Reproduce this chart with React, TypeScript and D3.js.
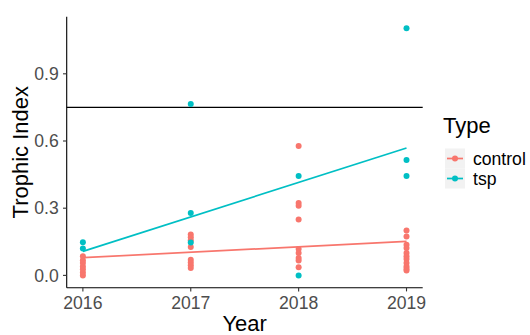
import * as d3 from "d3";

// values, one list per year
const years = [2016, 2017, 2018, 2019];
const yTicks = [0, 0.3, 0.6, 0.9];

const controlByYear = [
  [0.0, 0.013, 0.027, 0.04, 0.055, 0.068, 0.085],
  [0.182, 0.17, 0.157, 0.127, 0.07, 0.058, 0.045, 0.033],
  [0.578, 0.323, 0.311, 0.249, 0.118, 0.1, 0.078, 0.067, 0.036],
  [0.2, 0.174, 0.137, 0.122, 0.1, 0.085, 0.073, 0.055, 0.04, 0.03, 0.022],
];
const tspByYear = [
  [0.148, 0.12],
  [0.765, 0.279, 0.147],
  [0.444, 0.0],
  [1.103, 0.515, 0.444],
];

// fitted lm lines at first and last year
const controlFit = [0.079, 0.152];
const tspFit = [0.107, 0.569];
const refLine = 0.75;

const types = ["control", "tsp"];
const colors = ["#F8766D", "#00BFC4"];

const W = 530;
const H = 335;
const panel = { left: 66.7, right: 422.7, top: 16.7, bottom: 287.7 };
const font = "'Liberation Sans', Arial, sans-serif";

type Pt = { x: number; y: number };

const App = () => {
  const x = d3.scaleLinear().domain([2015.85, 2019.15]).range([panel.left, panel.right]);
  const y = d3.scaleLinear().domain([-0.055, 1.155]).range([panel.bottom, panel.top]);

  const toPts = (byYear: number[][]): Pt[] =>
    byYear.flatMap((vals, i) => vals.map((v) => ({ x: years[i], y: v })));

  const controlPts = toPts(controlByYear);
  const tspPts = toPts(tspByYear);

  const line = d3
    .line<Pt>()
    .x((d) => x(d.x))
    .y((d) => y(d.y));

  const fitLine = (fit: number[]) =>
    line([
      { x: years[0], y: fit[0] },
      { x: years[years.length - 1], y: fit[1] },
    ]) ?? "";

  return (
    <div style={{ position: "absolute", left: 0, top: 0 }}>
      <svg width={W} height={H} style={{ display: "block", background: "white" }} fontFamily={font}>
        {/* reference line */}
        <line x1={panel.left} x2={panel.right} y1={y(refLine)} y2={y(refLine)} stroke="black" strokeWidth={1.1} />

        {/* points */}
        {controlPts.map((d, i) => (
          <circle key={"c" + i} cx={x(d.x)} cy={y(d.y)} r={3} fill={colors[0]} />
        ))}
        {tspPts.map((d, i) => (
          <circle key={"t" + i} cx={x(d.x)} cy={y(d.y)} r={3} fill={colors[1]} />
        ))}

        {/* regression lines */}
        <path d={fitLine(controlFit)} stroke={colors[0]} strokeWidth={1.7} fill="none" />
        <path d={fitLine(tspFit)} stroke={colors[1]} strokeWidth={1.7} fill="none" />

        {/* axes */}
        <line x1={panel.left} x2={panel.left} y1={panel.top} y2={panel.bottom} stroke="black" strokeWidth={1.1} />
        <line x1={panel.left} x2={panel.right} y1={panel.bottom} y2={panel.bottom} stroke="black" strokeWidth={1.1} />

        {yTicks.map((t) => (
          <g key={"y" + t}>
            <line x1={panel.left - 3.7} x2={panel.left} y1={y(t)} y2={y(t)} stroke="#333" strokeWidth={1.1} />
            <text x={panel.left - 8} y={y(t)} dy="0.35em" textAnchor="end" fontSize={17.6} fill="#4D4D4D">
              {d3.format(".1f")(t)}
            </text>
          </g>
        ))}
        {years.map((t) => (
          <g key={"x" + t}>
            <line x1={x(t)} x2={x(t)} y1={panel.bottom} y2={panel.bottom + 3.7} stroke="#333" strokeWidth={1.1} />
            <text x={x(t)} y={panel.bottom + 21.5} textAnchor="middle" fontSize={17.6} fill="#4D4D4D">
              {t}
            </text>
          </g>
        ))}

        {/* axis titles */}
        <text x={(panel.left + panel.right) / 2} y={330.5} textAnchor="middle" fontSize={22} fill="black">
          Year
        </text>
        <text
          transform={`translate(28,${(panel.top + panel.bottom) / 2}) rotate(-90)`}
          textAnchor="middle"
          fontSize={22}
          fill="black"
        >
          Trophic Index
        </text>

        {/* legend */}
        <text x={443} y={133} fontSize={22} fill="black">
          Type
        </text>
        {types.map((name, i) => {
          const cy = 158.5 + i * 20;
          return (
            <g key={name}>
              <rect x={445} y={cy - 10} width={20} height={20} fill="#F2F2F2" />
              <line x1={447} x2={463} y1={cy} y2={cy} stroke={colors[i]} strokeWidth={1.7} />
              <circle cx={455} cy={cy} r={3} fill={colors[i]} />
              <text x={473} y={cy} dy="0.35em" fontSize={17.6} fill="black">
                {name}
              </text>
            </g>
          );
        })}
      </svg>
    </div>
  );
};

export default App;
